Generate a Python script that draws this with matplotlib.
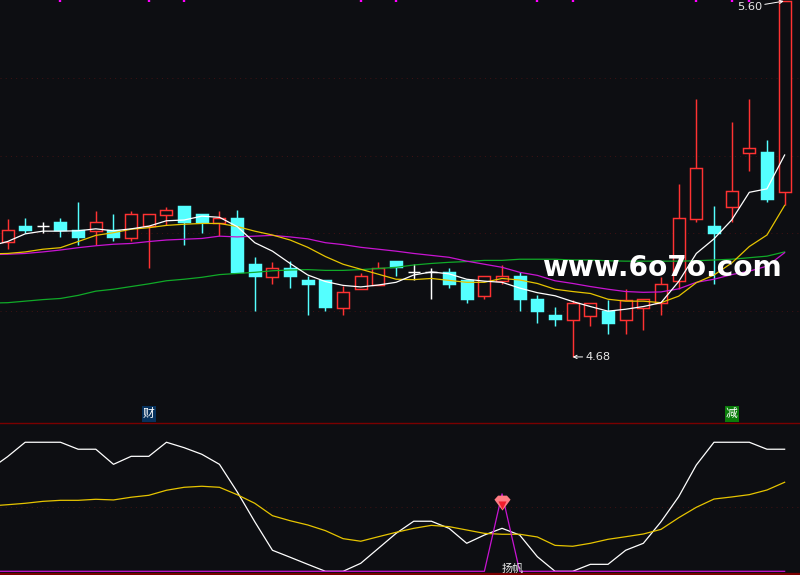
import matplotlib
matplotlib.use("Agg")
import matplotlib.pyplot as plt
import numpy as np

plt.rcParams['font.family'] = ['Noto Sans CJK SC', 'DejaVu Sans']

opens = [4.982,5.022,5.022,5.033,5.011,5.010,5.011,4.992,5.022,5.052,5.074,5.054,5.031,5.043,4.924,
         4.891,4.913,4.882,4.882,4.810,4.859,4.870,4.931,4.902,4.903,4.903,4.882,4.841,4.880,4.892,
         4.833,4.791,4.779,4.789,4.801,4.779,4.810,4.821,4.880,5.041,5.022,5.073,5.213,5.215,5.112]
highs = [5.041,5.043,5.033,5.043,5.085,5.061,5.054,5.061,5.053,5.072,5.074,5.054,5.061,5.064,4.942,
         4.929,4.931,4.892,4.882,4.866,4.900,4.929,4.931,4.924,4.913,4.913,4.882,4.892,4.921,4.903,
         4.843,4.812,4.830,4.821,4.830,4.859,4.832,4.890,5.132,5.353,5.074,5.293,5.353,5.246,5.607]
lows = [4.963,5.005,5.005,4.994,4.973,4.973,4.983,4.983,4.913,5.025,4.973,5.004,4.996,4.903,4.801,
        4.872,4.861,4.791,4.801,4.791,4.859,4.870,4.892,4.882,4.833,4.861,4.822,4.833,4.872,4.801,
        4.770,4.762,4.682,4.762,4.742,4.742,4.752,4.791,4.859,5.034,4.872,5.034,5.165,5.085,5.077]
closes = [5.011,5.012,5.022,5.012,4.994,5.032,4.994,5.054,5.053,5.063,5.033,5.033,5.042,4.903,4.892,
          4.912,4.892,4.872,4.812,4.850,4.892,4.912,4.915,4.902,4.903,4.872,4.833,4.892,4.892,4.833,
          4.801,4.781,4.821,4.821,4.770,4.831,4.832,4.871,5.042,5.172,5.004,5.113,5.224,5.093,5.607]

# moving averages, first value is the session just left of the frame
ma_white = [4.970,4.982,5.002,5.009,5.009,5.010,5.015,5.010,5.015,5.022,5.036,5.038,5.048,5.045,5.021,4.979,
            4.957,4.925,4.895,4.878,4.868,4.864,4.869,4.876,4.895,4.903,4.898,4.884,4.879,4.876,4.861,
            4.849,4.841,4.826,4.813,4.801,4.806,4.813,4.823,4.878,4.951,4.989,5.038,5.110,5.119,5.207]
ma_yellow = [4.950,4.951,4.955,4.962,4.966,4.982,4.998,5.005,5.014,5.018,5.024,5.027,5.029,5.029,5.021,5.009,
             4.999,4.986,4.967,4.943,4.923,4.910,4.897,4.884,4.883,4.886,4.881,4.876,4.876,4.886,4.882,
             4.873,4.858,4.852,4.847,4.832,4.827,4.827,4.823,4.840,4.875,4.895,4.926,4.969,4.999,5.076]
ma_magenta = [4.948,4.949,4.951,4.955,4.960,4.966,4.971,4.975,4.977,4.982,4.986,4.988,4.990,4.996,4.994,4.996,
              4.998,4.994,4.989,4.979,4.974,4.967,4.962,4.957,4.951,4.946,4.941,4.931,4.923,4.915,4.902,
              4.894,4.880,4.873,4.865,4.858,4.852,4.850,4.851,4.859,4.876,4.884,4.896,4.905,4.918,4.953]
ma_green = [4.822,4.823,4.827,4.831,4.834,4.842,4.853,4.858,4.865,4.872,4.880,4.884,4.889,4.896,4.899,4.902,
            4.906,4.908,4.909,4.907,4.907,4.909,4.912,4.915,4.921,4.925,4.928,4.930,4.933,4.933,4.936,
            4.936,4.936,4.934,4.934,4.932,4.931,4.931,4.931,4.931,4.932,4.934,4.936,4.940,4.944,4.955]

osc_white = [79.0,88.8,100,100,100,94.6,94.6,82.9,89.1,89.1,100,95.8,90.7,82.9,61.7,38.4,
             16.3,10.9,5.4,0,0,6.2,17.8,29.4,38.8,38.8,33.3,21.7,28.1,33.3,28.1,
             11.3,0,0,5.4,5.4,16.3,21.7,38.4,57.8,82.4,100,100,100,94.6,94.6]
osc_yellow = [50.6,51.6,52.7,54.2,55.0,55.0,55.8,55.3,57.4,58.9,62.8,65.1,65.9,65.1,59.4,52.7,
              43.1,39.2,35.9,31.5,25.3,23.3,26.8,30.2,33.3,35.6,34.6,32.0,29.4,28.7,28.7,
              26.6,20.1,19.4,21.7,24.8,26.8,28.9,32.5,41.5,49.6,56.0,57.6,59.4,63.0,69.0]
osc_signal = [0]*29 + [60] + [0]*16

top_signals = [3, 8, 10, 20, 22, 30, 32, 39, 41, 42]
price_grid = [5.407, 5.204, 5.004, 4.801]
low_label, high_label = "4.68", "5.60"
low_idx, high_idx = 32, 44
low_price, high_price = 4.682, 5.607
buy_label_idx, sell_label_idx, sail_idx = 8, 41, 28

BG = '#0d0e12'
RED = '#ff3232'
CYAN = '#54ffff'
WHITE = '#ffffff'
YELLOW = '#e6c400'
MAGENTA = '#c814d2'
GREEN = '#10aa28'
DARK = '#7a0000'
DOT = '#3c1214'

W, H = 800, 575
fig = plt.figure(figsize=(8, 5.75), dpi=100, facecolor=BG)
ax = fig.add_axes([0, 1 - 421 / H, 1, 421 / H], facecolor=BG)
ax2 = fig.add_axes([0, 0, 1, 1 - 422 / H], facecolor=BG)

xlim = (-0.425, 44.87)
for a in (ax, ax2):
    a.set_xlim(*xlim)
    a.axis('off')
ax.set_ylim(4.5154, 5.61)
ax2.set_ylim(-2.87, 115.7)

LW = 0.9
CW = 1.05
o, h, l, c = map(np.array, (opens, highs, lows, closes))
idx = np.arange(len(o))
up = c > o
down = c < o
doji = c == o
bw = 0.68

for y in price_grid:
    ax.axhline(y, color=DOT, lw=0.75, ls=(0, (1, 4)), zorder=1)
ax2.axhline(50, color=DOT, lw=0.75, ls=(0, (1, 4)), zorder=1)

ax.vlines(idx[up], l[up], h[up], color=RED, lw=CW, zorder=2)
ax.vlines(idx[down], l[down], h[down], color=CYAN, lw=CW, zorder=2)
ax.vlines(idx[doji], l[doji], h[doji], color=WHITE, lw=CW, zorder=2)
ax.bar(idx[up], (c - o)[up], bottom=o[up], width=bw, facecolor=BG, edgecolor=RED,
       linewidth=CW, zorder=3)
ax.bar(idx[down], (o - c)[down], bottom=c[down], width=bw, facecolor=CYAN, edgecolor=CYAN,
       linewidth=CW, zorder=3)
ax.hlines(c[doji], idx[doji] - bw / 2, idx[doji] + bw / 2, color=WHITE, lw=CW, zorder=3)

xs = np.arange(-1, 45)
for vals, col, zo in ((ma_green, GREEN, 4), (ma_magenta, MAGENTA, 5), (ma_yellow, YELLOW, 6), (ma_white, WHITE, 7)):
    ax.plot(xs, vals, color=col, lw=LW, zorder=zo)

ax.vlines(top_signals, 5.605, 5.61, color='#ff00ff', lw=1.7, zorder=8)

ax.annotate(low_label, xy=(low_idx, low_price), xytext=(low_idx + 0.72, low_price),
            color='#e8e8e8', fontsize=8.2, va='center', ha='left', family='DejaVu Sans', zorder=9,
            arrowprops=dict(arrowstyle='->', color=WHITE, lw=0.7, shrinkA=0, shrinkB=0, mutation_scale=6))
ax.annotate(high_label, xy=(high_idx - 0.05, high_price), xytext=(high_idx - 1.28, 5.592),
            color='#e8e8e8', fontsize=8.2, va='center', ha='right', family='DejaVu Sans', zorder=9,
            arrowprops=dict(arrowstyle='->', color=WHITE, lw=0.7, shrinkA=0, shrinkB=0, mutation_scale=6))

ax.text(buy_label_idx, 4.534, '财', color=WHITE, fontsize=8.5, ha='center', va='center', zorder=9,
        bbox=dict(boxstyle='square,pad=0.1', fc='#06315c', ec='none'))
ax.text(sell_label_idx, 4.534, '减', color=WHITE, fontsize=8.5, ha='center', va='center', zorder=9,
        bbox=dict(boxstyle='square,pad=0.1', fc='#0a7d0a', ec='none'))

ax.text(0.8275, 4.912, 'www.6o7o.com', transform=ax.get_yaxis_transform(), color=WHITE,
        fontsize=20.2, fontweight='bold', family='DejaVu Sans', ha='center', va='center', zorder=10)

ax2.axhline(115.2, color=DARK, lw=1.0, zorder=2)
ax2.axhline(-2.3, color=DARK, lw=1.6, zorder=2)
ax2.plot(xs, osc_white, color=WHITE, lw=LW, zorder=4)
ax2.plot(xs, osc_yellow, color=YELLOW, lw=LW, zorder=5)
ax2.plot(xs, osc_signal, color=MAGENTA, lw=LW, zorder=6)

gem_y = 54.0
gem_shape = [(-1, 0.35), (-0.55, 0.85), (0.55, 0.85), (1, 0.35), (0, -1), (-1, 0.35)]
ax2.scatter([sail_idx], [gem_y], marker=gem_shape, s=135, color='#ff7c84', linewidths=0, zorder=7)
ax2.scatter([sail_idx], [gem_y - 2.6], marker='v', s=34, color='#f01e2d', linewidths=0, zorder=8)
ax2.text(sail_idx + 0.6, 1.6, '扬帆', color='#e8e8e8', fontsize=8, ha='center', va='center', zorder=9)

fig.savefig('out.png', dpi=100, facecolor=BG)
